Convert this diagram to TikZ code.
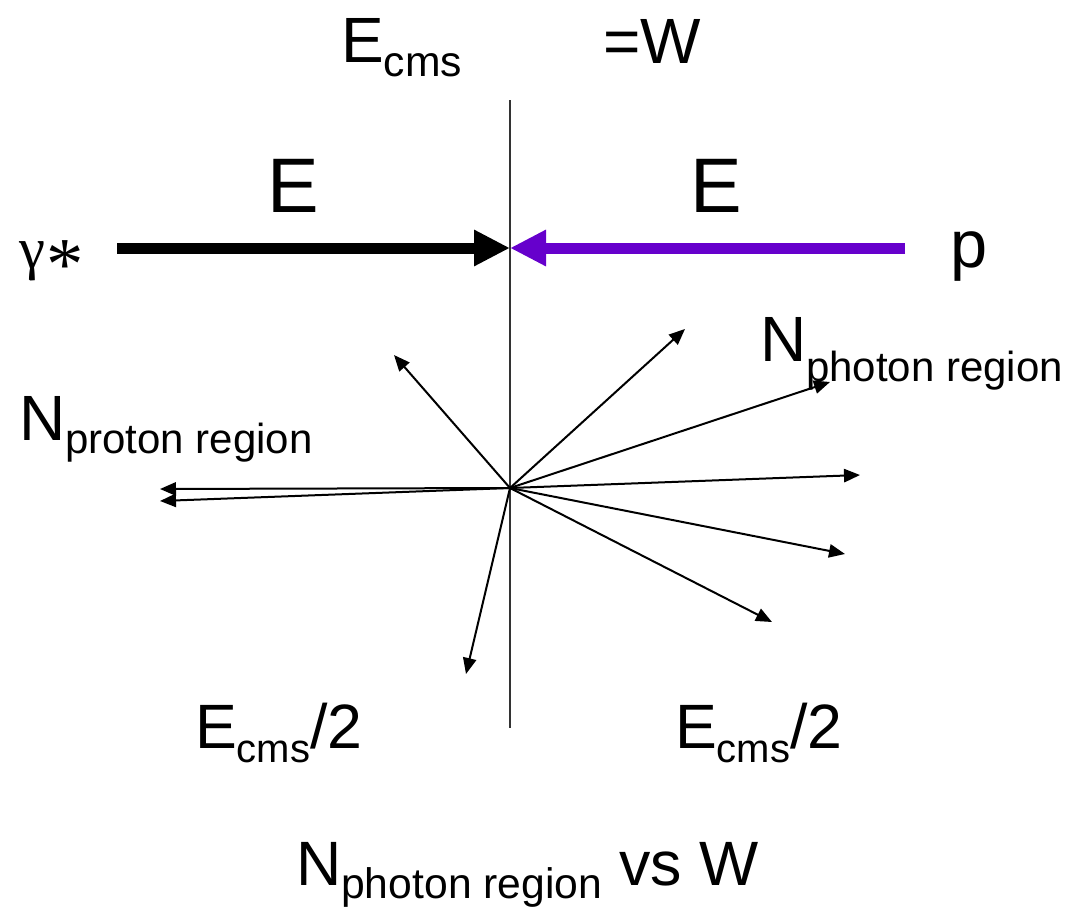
\documentclass[tikz,border=0pt]{standalone}
\usepackage{fontspec}
\setmainfont{Liberation Sans}
\newfontfamily\timesfont{Liberation Serif}
\usetikzlibrary{arrows.meta}
\definecolor{protonviolet}{HTML}{6600CC}

% main letter followed by a lowered, smaller subscript
% #1 main size, #2 main text, #3 sub size, #4 sub text, #5 drop
\newcommand{\mainsub}[5]{{\fontsize{#1}{#1}\selectfont #2}\raisebox{-#5}{\fontsize{#3}{#3}\selectfont #4}}
\newcommand{\fs}[2]{{\fontsize{#1}{#1}\selectfont #2}}

\begin{document}
\begin{tikzpicture}[x=0.75pt,y=-0.75pt,
  lbl/.style={inner sep=0pt, outer sep=0pt, anchor=base west},
  beam/.style={line width=8.25pt, -{Triangle[length=27pt,width=25.5pt]}},
  track/.style={line width=1.5pt, -{Triangle[length=12pt,width=10pt]}},
  axisline/.style={line width=1.5pt, black!80}]
\path[use as bounding box] (0,0) rectangle (1086,907);

% centre of mass vertical divider
\coordinate (top) at (510,100);
\coordinate (bot) at (510,728);
\draw[axisline] (top) -- (bot);

% incoming beams
\coordinate (gstart) at (117,248);
\coordinate (pstart) at (905,248);
\coordinate (meet) at (510,248);
\draw[beam, black] (gstart) -- (meet);
\draw[beam, protonviolet] (pstart) -- (meet);

% outgoing tracks from the interaction point
\coordinate (o) at (510,488);
\coordinate (t1) at (394,355);
\coordinate (t2) at (685,329);
\coordinate (t3) at (830,382);
\coordinate (t4) at (860,475);
\coordinate (t5) at (845,554);
\coordinate (t6) at (772,622);
\coordinate (t7) at (466,674);
\coordinate (t8) at (160,489);
\coordinate (t9) at (160,501);
\foreach \t in {t1,t2,t3,t4,t5,t6,t7,t8,t9}
  \draw[track] (o) -- (\t);

% labels
\node[lbl] (ecms) at (341,62) {\mainsub{48pt}{E}{32pt}{cms}{11pt}};
\node[lbl] (eqw) at (603,63) {\fs{48pt}{=W}};
\node[lbl] (eleft) at (267,212) {\fs{58pt}{E}};
\node[lbl] (eright) at (690,212) {\fs{58pt}{E}};
\node[lbl] (gam) at (19,268) {\timesfont\fs{44pt}{γ}\kern1pt\raisebox{-16pt}{\fs{56pt}{*}}};
\node[lbl] (prot) at (950,267) {\fs{50pt}{p}};
\node[lbl] (nprot) at (19,440) {\mainsub{48pt}{N}{31.5pt}{proton region}{10pt}};
\node[lbl] (nphot) at (760,361) {\mainsub{48pt}{N}{31.5pt}{photon region}{15pt}};
\node[lbl] (ehl) at (195,748) {\mainsub{47pt}{E}{30pt}{cms}{11pt}\fs{47pt}{/2}};
\node[lbl] (ehr) at (675,748) {\mainsub{47pt}{E}{30pt}{cms}{11pt}\fs{47pt}{/2}};
\node[lbl] (vsw) at (296,885) {\mainsub{47pt}{N}{32pt}{photon region}{10pt}\fs{47pt}{ vs W}};
\end{tikzpicture}
\end{document}
